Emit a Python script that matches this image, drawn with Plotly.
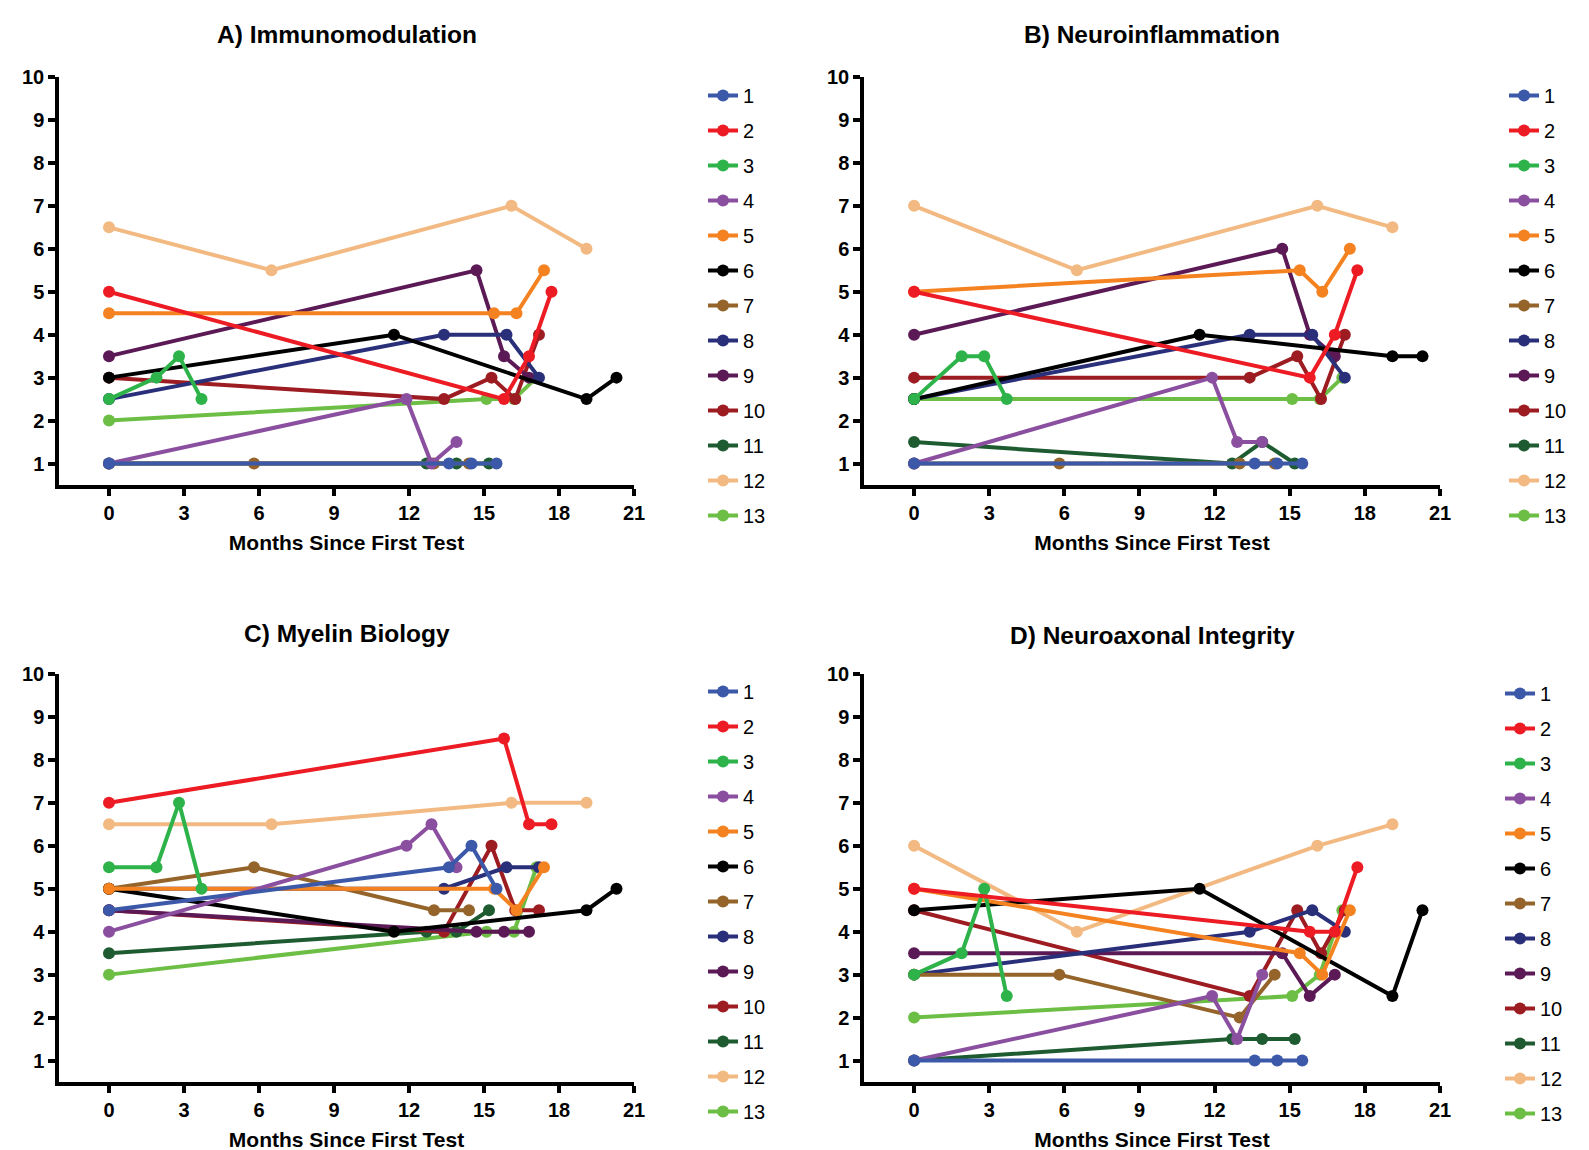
import plotly.graph_objects as go

patients = ["1", "2", "3", "4", "5", "6", "7", "8", "9", "10", "11", "12", "13"]
colors = ["#3C58A8", "#ED1C24", "#2DB34A", "#8B4FA0", "#F58220", "#000000", "#94642A",
          "#2A2F7A", "#5B1A56", "#9C1C22", "#1E5B30", "#F2BA82", "#6CBE45"]

months = [
    [0, 13.6, 14.5, 15.5],
    [0, 15.8, 16.8, 17.7],
    [0, 1.9, 2.8, 3.7],
    [0, 11.9, 12.9, 13.9],
    [0, 15.4, 16.3, 17.4],
    [0, 11.4, 19.1, 20.3],
    [0, 5.8, 13.0, 14.4],
    [0, 13.4, 15.9, 17.2],
    [0, 14.7, 15.8, 16.8],
    [0, 13.4, 15.3, 16.25, 17.2],
    [0, 12.7, 13.9, 15.2],
    [0, 6.5, 16.1, 19.1],
    [0, 15.1, 16.2, 17.1],
]

immunomodulation = [
    [1, 1, 1, 1],
    [5, 2.5, 3.5, 5],
    [2.5, 3, 3.5, 2.5],
    [1, 2.5, 1, 1.5],
    [4.5, 4.5, 4.5, 5.5],
    [3, 4, 2.5, 3],
    [1, 1, 1, 1],
    [2.5, 4, 4, 3],
    [3.5, 5.5, 3.5, 3],
    [3, 2.5, 3, 2.5, 4],
    [1, 1, 1, 1],
    [6.5, 5.5, 7, 6],
    [2, 2.5, 2.5, 3],
]

neuroinflammation = [
    [1, 1, 1, 1],
    [5, 3, 4, 5.5],
    [2.5, 3.5, 3.5, 2.5],
    [1, 3, 1.5, 1.5],
    [5, 5.5, 5, 6],
    [2.5, 4, 3.5, 3.5],
    [1, 1, 1, 1],
    [2.5, 4, 4, 3],
    [4, 6, 4, 3.5],
    [3, 3, 3.5, 2.5, 4],
    [1.5, 1, 1.5, 1],
    [7, 5.5, 7, 6.5],
    [2.5, 2.5, 2.5, 3],
]

myelin_biology = [
    [4.5, 5.5, 6, 5],
    [7, 8.5, 6.5, 6.5],
    [5.5, 5.5, 7, 5],
    [4, 6, 6.5, 5.5],
    [5, 5, 4.5, 5.5],
    [5, 4, 4.5, 5],
    [5, 5.5, 4.5, 4.5],
    [5, 5, 5.5, 5.5],
    [4.5, 4, 4, 4],
    [4.5, 4, 6, 4.5, 4.5],
    [3.5, 4, 4, 4.5],
    [6.5, 6.5, 7, 7],
    [3, 4, 4, 5.5],
]

neuroaxonal_integrity = [
    [1, 1, 1, 1],
    [5, 4, 4, 5.5],
    [3, 3.5, 5, 2.5],
    [1, 2.5, 1.5, 3],
    [5, 3.5, 3, 4.5],
    [4.5, 5, 2.5, 4.5],
    [3, 3, 2, 3],
    [3, 4, 4.5, 4],
    [3.5, 3.5, 2.5, 3],
    [4.5, 2.5, 4.5, 3.5, 4.5],
    [1, 1.5, 1.5, 1.5],
    [6, 4, 6, 6.5],
    [2, 2.5, 3, 4.5],
]

panel_titles = ["A) Immunomodulation", "B) Neuroinflammation", "C) Myelin Biology", "D) Neuroaxonal Integrity"]
panel_data = [immunomodulation, neuroinflammation, myelin_biology, neuroaxonal_integrity]
x_ticks = [0, 3, 6, 9, 12, 15, 18, 21]
y_ticks = [1, 2, 3, 4, 5, 6, 7, 8, 9, 10]
x_title = "Months Since First Test"

W, H = 1589, 1150
OFF = 8  # page body margin: figure origin sits at (8, 8) in the window
FONT = "Liberation Sans, Arial, sans-serif"

# pixel layout in window coordinates (left, right, top, bottom)
areas = [(59, 634, 77, 485), (864, 1440, 77, 485), (59, 634, 674, 1082), (864, 1440, 674, 1082)]
title_y = [35, 35, 633, 635]
legend_left = [703, 1504, 703, 1500]
legend_top = [76, 76, 672, 674]


def fx(px):
    return (px - OFF) / W


def fy(py):
    return 1 - (py - OFF) / H


fig = go.Figure()
for p, data in enumerate(panel_data):
    xa = "x" if p == 0 else f"x{p+1}"
    ya = "y" if p == 0 else f"y{p+1}"
    lg = "legend" if p == 0 else f"legend{p+1}"
    for i in reversed(range(len(patients))):
        fig.add_trace(go.Scatter(
            x=months[i], y=data[i], mode="lines+markers", name=patients[i],
            line=dict(color=colors[i], width=4),
            marker=dict(color=colors[i], size=12, symbol="circle"),
            xaxis=xa, yaxis=ya, legend=lg, legendgroup=f"{p}-{i}",
            legendrank=i + 1,
        ))

layout = dict(
    width=W, height=H, margin=dict(l=0, r=0, t=0, b=0, autoexpand=False),
    paper_bgcolor="white", plot_bgcolor="white",
    font=dict(family=FONT, color="black"),
    annotations=[],
)
for p in range(4):
    l, r, t, b = areas[p]
    suffix = "" if p == 0 else str(p + 1)
    layout["xaxis" + suffix] = dict(
        domain=[fx(l), fx(r)], range=[-2, 21], anchor="y" + suffix,
        tickmode="array", tickvals=x_ticks, ticktext=[str(v) for v in x_ticks],
        showline=True, linecolor="black", linewidth=3.5, mirror=False,
        ticks="outside", ticklen=7, tickwidth=3.5, tickcolor="black",
        showgrid=False, zeroline=False, automargin=False,
        tickfont=dict(family=FONT, size=20, color="black", weight="bold"),
        title=dict(text=x_title, font=dict(family=FONT, size=21, color="black", weight="bold"), standoff=14),
    )
    layout["yaxis" + suffix] = dict(
        domain=[fy(b), fy(t)], range=[0.5, 10], anchor="x" + suffix,
        tickmode="array", tickvals=y_ticks, ticktext=[str(v) for v in y_ticks],
        showline=True, linecolor="black", linewidth=3.5, mirror=False,
        ticks="outside", ticklen=7, tickwidth=3.5, tickcolor="black",
        showgrid=False, zeroline=False, automargin=False,
        tickfont=dict(family=FONT, size=20, color="black", weight="bold"),
    )
    layout["legend" + suffix] = dict(
        x=fx(legend_left[p]), y=fy(legend_top[p]), xanchor="left", yanchor="top",
        xref="paper", yref="paper",
        traceorder="grouped", tracegroupgap=6,
        font=dict(family=FONT, size=20, color="black"),
        bgcolor="rgba(0,0,0,0)", borderwidth=0, itemwidth=30,
    )
    layout["annotations"].append(dict(
        text=f"<b>{panel_titles[p]}</b>", x=(fx(l) + fx(r)) / 2, y=fy(title_y[p]),
        xref="paper", yref="paper", xanchor="center", yanchor="middle",
        showarrow=False, font=dict(family=FONT, size=24.5, color="black"),
    ))

fig.update_layout(**layout)
fig.write_html("out.html")
